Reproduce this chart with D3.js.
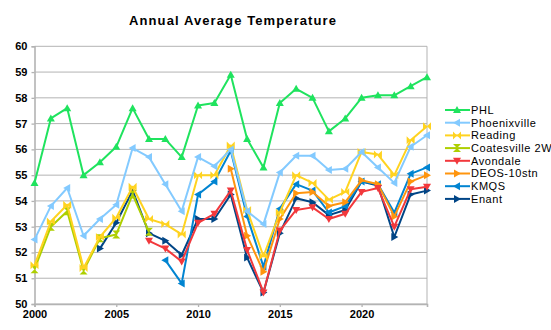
<!DOCTYPE html>
<html>
<head>
<meta charset="utf-8">
<script src="https://cdn.jsdelivr.net/npm/d3@7"></script>
<style>
  body { margin: 0; background: #fff; }
  svg { display: block; font-family: "Liberation Sans", Arial, sans-serif; }
</style>
</head>
<body>
<svg id="chart" width="551" height="330"></svg>
<script>
// Years on the x axis
const years = d3.range(2000, 2025);

// Series values, null where a station has no data
const phl = [54.7, 57.2, 57.6, 55.0, 55.5, 56.1, 57.6, 56.4, 56.4, 55.7, 57.7, 57.8, 58.9, 56.4, 55.3, 57.8, 58.35, 58.0, 56.7, 57.2, 58.0, 58.1, 58.1, 58.45, 58.8];
const phoenixville = [52.5, 53.8, 54.5, 52.65, 53.3, 53.85, 56.05, 55.7, 54.65, 53.6, 55.7, 55.35, 56.0, 53.6, 53.1, 55.1, 55.75, 55.75, 55.2, 55.25, 55.9, 55.3, 54.7, 56.1, 56.55];
const reading = [51.5, 53.2, 53.85, 51.4, 52.6, 53.35, 54.55, 53.3, 53.1, 52.7, 55.0, 55.0, 56.15, 53.65, 51.85, 53.55, 55.0, 54.7, 54.05, 54.35, 55.9, 55.8, 55.0, 56.35, 56.9];
const coatesville = [51.35, 53.0, 53.6, 51.3, 52.55, 52.7, 54.25, 52.8, null, null, null, null, null, null, null, null, null, null, null, null, null, null, null, null, null];
const avondale = [null, null, null, null, null, null, null, 52.45, 52.15, 51.65, 53.15, 53.5, 54.4, 52.1, 50.45, 52.85, 53.65, 53.75, 53.3, 53.5, 54.35, 54.5, 53.0, 54.45, 54.55];
const deos = [null, null, null, null, null, null, null, null, null, null, null, null, 55.25, 52.65, 51.25, 53.3, 54.3, 54.35, 53.8, 53.95, 54.8, 54.65, 53.4, 54.75, 55.0];
const kmqs = [null, null, null, null, null, null, null, null, 51.7, 50.8, 54.25, 54.75, 55.95, 53.4, 51.45, 53.7, 54.65, 54.4, 53.55, 53.8, 54.75, 54.65, 53.55, 55.05, 55.3];
const enant = [null, null, null, null, 52.15, 53.15, 54.4, 52.75, 52.45, 51.9, 53.3, 53.3, 54.25, 51.8, 50.45, 52.75, 54.1, 53.95, 53.45, 53.65, 54.75, 54.6, 52.6, 54.25, 54.4];

const seriesNames = ['PHL', 'Phoenixville', 'Reading', 'Coatesville 2W', 'Avondale', 'DEOS-10stn', 'KMQS', 'Enant'];
const seriesValues = [phl, phoenixville, reading, coatesville, avondale, deos, kmqs, enant];
const seriesColors = ['#1fe35e', '#83caff', '#ffd320', '#aecf00', '#f2383c', '#ff950e', '#0084d1', '#004586'];
const seriesMarkers = ['up', 'left', 'bowtie', 'hourglass', 'down', 'right', 'left', 'right'];

const yTicks = d3.range(50, 61);
const xTicks = [2000, 2005, 2010, 2015, 2020];

// Marker outlines, centred on 0,0
const markerPaths = {
    up: 'M0,-4L4,3L-4,3Z',
    down: 'M0,4L4,-3L-4,-3Z',
    left: 'M-4,0L3,-4L3,4Z',
    right: 'M4,0L-3,-4L-3,4Z',
    bowtie: 'M-4,-4L0,0L-4,4ZM4,-4L0,0L4,4Z',
    hourglass: 'M-4,-4L4,-4L0,0ZM-4,4L4,4L0,0Z'
};

const svg = d3.select('#chart');
const plot = { left: 34.5, right: 427, top: 46.3, bottom: 304 };

const x = d3.scaleLinear().domain([2000, 2024]).range([plot.left, plot.right]);
const y = d3.scaleLinear().domain([50, 60]).range([plot.bottom, plot.top]);

// Title
svg.append('text')
    .attr('x', 232.5)
    .attr('y', 24.5)
    .attr('text-anchor', 'middle')
    .attr('textLength', 207)
    .attr('lengthAdjust', 'spacing')
    .style('font-size', '13px')
    .style('font-weight', 'bold')
    .text('Annual Average Temperature');

// Gridlines
svg.append('g')
    .selectAll('line')
    .data(yTicks)
    .enter()
    .append('line')
    .attr('x1', plot.left)
    .attr('x2', plot.right)
    .attr('y1', d => y(d))
    .attr('y2', d => y(d))
    .attr('stroke', '#b3b3b3')
    .attr('stroke-width', 1);

// Right frame
svg.append('line')
    .attr('x1', plot.right).attr('x2', plot.right)
    .attr('y1', plot.top).attr('y2', plot.bottom)
    .attr('stroke', '#b3b3b3');

// Y axis
const yAxis = svg.append('g')
    .attr('transform', `translate(${plot.left},0)`)
    .call(d3.axisLeft(y).tickValues(yTicks).tickSize(3).tickFormat(d3.format('d')));

// X axis
const xAxis = svg.append('g')
    .attr('transform', `translate(0,${plot.bottom})`)
    .call(d3.axisBottom(x).tickValues(xTicks).tickSize(3).tickFormat(d3.format('d')));

[xAxis, yAxis].forEach(g => {
    g.select('.domain').attr('stroke', '#b3b3b3').attr('stroke-width', 1.6);
    g.selectAll('.tick line').attr('stroke', '#b3b3b3').attr('stroke-width', 1.3);
    g.selectAll('.tick text')
        .attr('fill', '#000')
        .style('font-family', '"Liberation Sans", Arial, sans-serif')
        .style('font-size', '11px')
        .style('font-weight', 'bold');
});
yAxis.selectAll('.tick text').attr('x', -7);
xAxis.selectAll('.tick text').attr('y', 6);

// Lines and markers (last series drawn first, so PHL ends up on top)
const line = d3.line()
    .defined(d => d.v != null)
    .x(d => x(d.year))
    .y(d => y(d.v));

const plotLayer = svg.append('g');
seriesValues.forEach((values, i) => {
    const pts = years.map((year, j) => ({ year: year, v: values[j] }));
    const g = plotLayer.insert('g', ':first-child').attr('class', 'series');

    g.append('path')
        .datum(pts)
        .attr('fill', 'none')
        .attr('stroke', seriesColors[i])
        .attr('stroke-width', 2)
        .attr('stroke-linejoin', 'round')
        .attr('d', line);

    g.selectAll('.marker')
        .data(pts.filter(d => d.v != null))
        .enter()
        .append('path')
        .attr('class', 'marker')
        .attr('transform', d => `translate(${x(d.year)},${y(d.v)})`)
        .attr('d', markerPaths[seriesMarkers[i]])
        .attr('fill', seriesColors[i]);
});

// Legend
const legend = svg.append('g').attr('transform', 'translate(445,110)');
seriesNames.forEach((name, i) => {
    const row = legend.append('g').attr('transform', `translate(0,${i * 12.7})`);
    row.append('line')
        .attr('x1', 0).attr('x2', 25)
        .attr('stroke', seriesColors[i])
        .attr('stroke-width', 2);
    row.append('path')
        .attr('transform', 'translate(12,0)')
        .attr('d', markerPaths[seriesMarkers[i]])
        .attr('fill', seriesColors[i]);
    row.append('text')
        .attr('x', 26)
        .attr('dy', '0.36em')
        .style('font-size', '11px')
        .style('letter-spacing', '0.55px')
        .text(name);
});
</script>
</body>
</html>
